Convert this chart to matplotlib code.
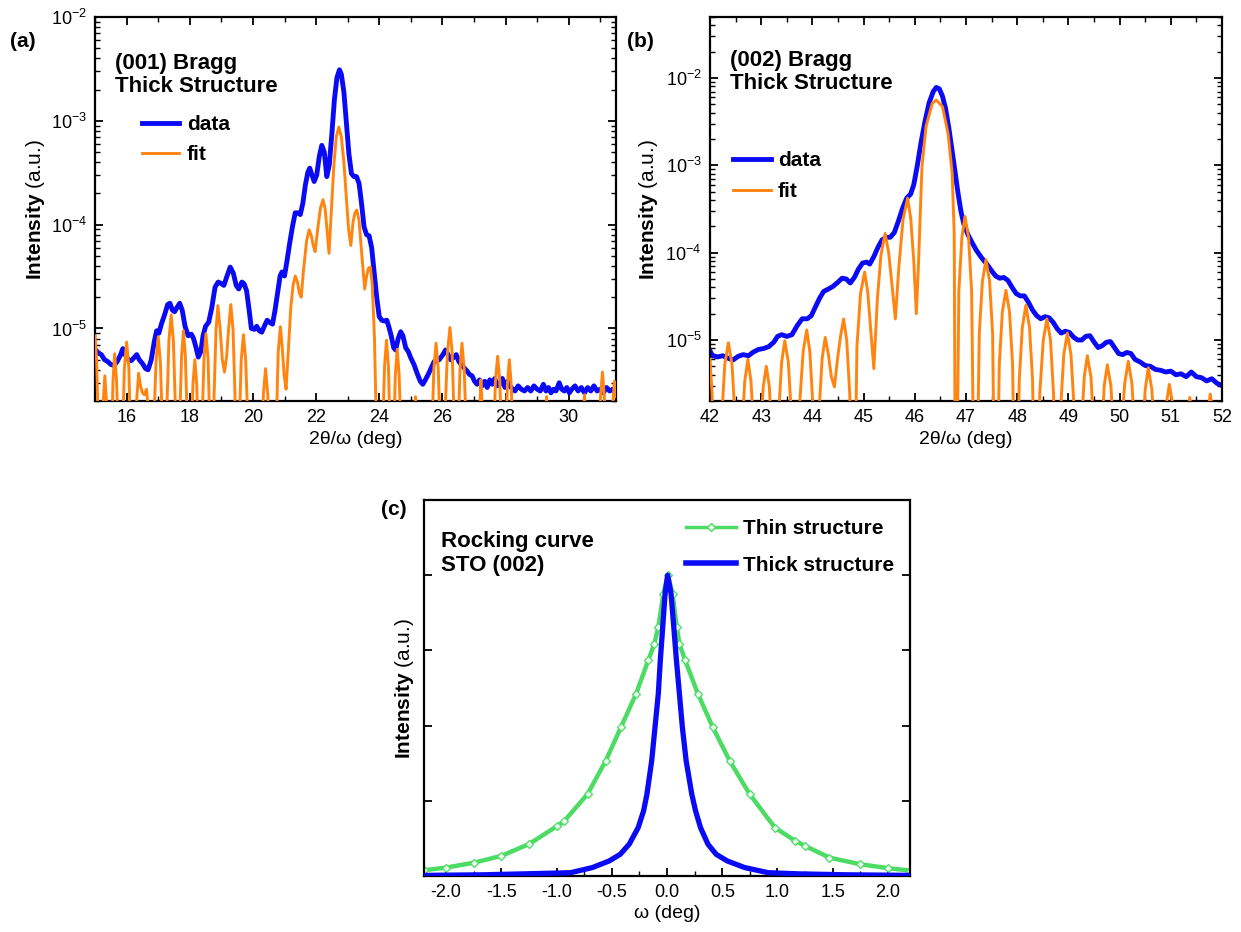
import numpy as np
import matplotlib
matplotlib.use("Agg")
import matplotlib.pyplot as plt
from matplotlib.lines import Line2D
from matplotlib.ticker import MultipleLocator, LogLocator, NullFormatter, FormatStrFormatter

plt.rcParams['font.family'] = 'Liberation Sans'
plt.rcParams['mathtext.fontset'] = 'custom'
plt.rcParams['mathtext.rm'] = 'Liberation Sans'
plt.rcParams['mathtext.bf'] = 'Liberation Sans:bold'
plt.rcParams['mathtext.it'] = 'Liberation Sans:italic'
plt.rcParams['axes.unicode_minus'] = False

BLUE = '#0a0af5'
ORANGE = '#ff8410'
GREEN = '#4cdc64'

# ---- (a) (001) Bragg (2theta, intensity)
a_data = [
    (15.0, 6.3e-6), (15.1, 5.8e-6), (15.2, 5.6e-6), (15.3, 5.0e-6), (15.4, 4.8e-6), (15.5, 4.5e-6),
    (15.6, 4.4e-6), (15.7, 4.8e-6), (15.8, 5.5e-6), (15.88, 6.4e-6), (15.95, 5.6e-6), (16.05, 5.0e-6),
    (16.15, 4.9e-6), (16.25, 5.3e-6), (16.32, 5.6e-6), (16.4, 5.0e-6), (16.5, 4.6e-6), (16.6, 4.1e-6),
    (16.68, 4.0e-6), (16.78, 5.0e-6), (16.88, 7.6e-6), (16.95, 9.5e-6), (17.02, 9.0e-6), (17.1, 1.1e-5),
    (17.2, 1.35e-5), (17.3, 1.7e-5), (17.37, 1.75e-5), (17.45, 1.5e-5), (17.52, 1.45e-5), (17.6, 1.6e-5),
    (17.68, 1.75e-5), (17.76, 1.5e-5), (17.85, 1.05e-5), (17.95, 8.5e-6), (18.05, 8.8e-6), (18.12, 8.0e-6),
    (18.2, 6.5e-6), (18.27, 5.3e-6), (18.35, 6.0e-6), (18.42, 8.5e-6), (18.5, 1.05e-5), (18.6, 1.15e-5),
    (18.7, 1.6e-5), (18.8, 2.5e-5), (18.9, 2.8e-5), (19.0, 2.7e-5), (19.08, 2.6e-5), (19.18, 3.2e-5),
    (19.28, 3.9e-5), (19.38, 3.4e-5), (19.47, 2.6e-5), (19.55, 2.4e-5), (19.65, 2.8e-5), (19.72, 2.7e-5),
    (19.8, 2.3e-5), (19.88, 1.5e-5), (19.95, 1.0e-5), (20.05, 9.8e-6), (20.12, 1.05e-5), (20.2, 9.5e-6),
    (20.28, 9.2e-6), (20.36, 1.05e-5), (20.45, 1.2e-5), (20.52, 1.15e-5), (20.62, 1.1e-5), (20.7, 1.5e-5),
    (20.78, 2.2e-5), (20.86, 3.2e-5), (20.92, 3.5e-5), (21.0, 3.2e-5), (21.08, 4.5e-5), (21.16, 6.5e-5),
    (21.25, 9.5e-5), (21.34, 1.3e-4), (21.42, 1.3e-4), (21.5, 1.25e-4), (21.58, 1.6e-4), (21.66, 2.4e-4),
    (21.74, 3.2e-4), (21.8, 3.5e-4), (21.87, 3.0e-4), (21.94, 2.6e-4), (22.02, 3.0e-4), (22.1, 4.5e-4),
    (22.18, 5.8e-4), (22.26, 5.0e-4), (22.34, 2.9e-4), (22.42, 3.8e-4), (22.5, 7.5e-4), (22.58, 1.6e-3),
    (22.66, 2.6e-3), (22.74, 3.1e-3), (22.8, 2.8e-3), (22.88, 1.9e-3), (22.96, 9.5e-4), (23.04, 4.8e-4),
    (23.12, 3.1e-4), (23.2, 2.9e-4), (23.28, 2.9e-4), (23.36, 2.5e-4), (23.44, 1.6e-4), (23.52, 9.5e-5),
    (23.6, 8.0e-5), (23.68, 7.8e-5), (23.76, 6.0e-5), (23.84, 3.5e-5), (23.92, 2.0e-5), (24.0, 1.3e-5),
    (24.08, 1.2e-5), (24.16, 1.18e-5), (24.24, 1.2e-5), (24.3, 1.05e-5), (24.38, 8.5e-6), (24.46, 6.5e-6),
    (24.52, 6.2e-6), (24.6, 8.0e-6), (24.68, 9.3e-6), (24.75, 8.5e-6), (24.84, 6.5e-6), (24.92, 6.0e-6),
    (25.0, 5.2e-6), (25.1, 4.5e-6), (25.2, 3.7e-6), (25.3, 3.1e-6), (25.38, 2.9e-6), (25.46, 3.2e-6),
    (25.55, 3.6e-6), (25.65, 4.2e-6), (25.74, 4.8e-6), (25.82, 4.9e-6), (25.9, 5.0e-6), (26.0, 5.5e-6),
    (26.1, 6.2e-6), (26.18, 5.6e-6), (26.26, 5.0e-6), (26.34, 5.2e-6), (26.44, 5.6e-6), (26.52, 4.8e-6),
    (26.6, 4.5e-6), (26.68, 4.2e-6), (26.78, 3.9e-6), (26.86, 3.6e-6), (26.94, 3.5e-6), (27.02, 3.1e-6),
    (27.1, 2.9e-6), (27.18, 3.2e-6), (27.26, 2.8e-6), (27.34, 3.1e-6), (27.42, 2.7e-6), (27.5, 3.2e-6),
    (27.58, 2.9e-6), (27.66, 3.3e-6), (27.74, 2.8e-6), (27.82, 2.9e-6), (27.9, 3.3e-6), (27.98, 2.7e-6),
    (28.06, 3.1e-6), (28.14, 2.8e-6), (28.22, 2.6e-6), (28.3, 2.5e-6), (28.4, 2.8e-6), (28.5, 2.6e-6),
    (28.6, 2.5e-6), (28.7, 2.7e-6), (28.8, 2.5e-6), (28.9, 2.8e-6), (29.0, 2.6e-6), (29.1, 2.5e-6),
    (29.2, 2.9e-6), (29.28, 2.5e-6), (29.36, 2.7e-6), (29.44, 2.4e-6), (29.52, 2.6e-6), (29.6, 2.5e-6),
    (29.7, 3.0e-6), (29.78, 2.6e-6), (29.86, 2.5e-6), (29.94, 2.7e-6), (30.02, 2.4e-6), (30.1, 2.6e-6),
    (30.2, 2.8e-6), (30.3, 2.5e-6), (30.4, 2.7e-6), (30.5, 2.4e-6), (30.6, 2.7e-6), (30.7, 2.5e-6),
    (30.8, 2.8e-6), (30.9, 2.5e-6), (31.0, 2.6e-6), (31.1, 2.4e-6), (31.2, 2.7e-6), (31.3, 2.5e-6),
    (31.4, 2.6e-6), (31.5, 2.3e-6),
]

a_fit = [
    (15.0, 8.5e-6), (15.05, 4.8e-6), (15.1, 1.2e-6), (15.16, 1e-8),
    (15.21, 5e-7), (15.26, 2.0e-6), (15.31, 3.5e-6), (15.36, 2.0e-6), (15.41, 5e-7), (15.46, 1e-8),
    (15.52, 8e-7), (15.57, 3.2e-6), (15.62, 5.7e-6), (15.68, 3.2e-6), (15.74, 8e-7), (15.80, 1e-8),
    (15.87, 1.0e-6), (15.93, 4.2e-6), (16.0, 7.4e-6), (16.07, 4.2e-6), (16.12, 1.0e-6), (16.19, 1e-8),
    (16.26, 5e-7), (16.32, 2.1e-6), (16.38, 3.7e-6), (16.44, 2.8e-6), (16.5, 2.4e-6), (16.56, 2.3e-6),
    (16.63, 2.6e-6), (16.7, 1.5e-6), (16.74, 4e-7), (16.78, 1e-8),
    (16.86, 1.2e-6), (16.93, 4.7e-6), (17.0, 8.3e-6), (17.07, 4.7e-6), (17.13, 1.2e-6), (17.2, 1e-8),
    (17.28, 1.9e-6), (17.34, 7.7e-6), (17.41, 1.35e-5), (17.48, 7.7e-6), (17.54, 1.9e-6), (17.61, 1e-8),
    (17.68, 1.3e-6), (17.74, 5.4e-6), (17.8, 9.5e-6), (17.86, 5.4e-6), (17.92, 1.3e-6), (17.98, 1e-8),
    (18.04, 7e-7), (18.1, 2.9e-6), (18.16, 5e-6), (18.22, 2.9e-6), (18.27, 7e-7), (18.33, 1e-8),
    (18.39, 1.25e-6), (18.45, 5.1e-6), (18.51, 8.9e-6), (18.58, 5.1e-6), (18.63, 1.25e-6), (18.7, 1e-8),
    (18.77, 2.3e-6), (18.83, 9.5e-6), (18.89, 1.66e-5), (18.96, 1.0e-5), (19.03, 5.0e-6), (19.1, 3.8e-6),
    (19.17, 5.5e-6), (19.23, 1.0e-5), (19.3, 1.7e-5), (19.37, 9.7e-6), (19.43, 2.4e-6), (19.5, 1e-8),
    (19.57, 1.2e-6), (19.63, 5e-6), (19.7, 8.7e-6), (19.77, 5e-6), (19.84, 1.2e-6), (19.92, 1e-8),
    (20.2, 1e-8), (20.27, 6e-7), (20.33, 2.3e-6), (20.4, 4.1e-6), (20.47, 2.3e-6), (20.53, 6e-7), (20.6, 1e-8),
    (20.68, 1e-8), (20.75, 1.5e-6), (20.8, 5.9e-6), (20.87, 1.04e-5), (20.93, 6.5e-6), (20.99, 3.5e-6), (21.05, 2.6e-6),
    (21.12, 6e-6), (21.2, 1.6e-5), (21.27, 2.6e-5), (21.34, 3.2e-5), (21.41, 2.8e-5), (21.47, 2.2e-5), (21.53, 2.0e-5),
    (21.6, 3.6e-5), (21.7, 7e-5), (21.78, 8.9e-5), (21.85, 7.8e-5), (21.91, 6.3e-5), (21.97, 5.5e-5),
    (22.05, 9e-5), (22.14, 1.45e-4), (22.22, 1.74e-4), (22.29, 1.4e-4), (22.35, 8.5e-5), (22.41, 5.3e-5),
    (22.48, 1.3e-4), (22.56, 3.6e-4), (22.64, 7e-4), (22.72, 8.7e-4), (22.8, 7e-4), (22.88, 4e-4),
    (22.96, 1.8e-4), (23.03, 9e-5), (23.1, 6.3e-5),
    (23.17, 1.05e-4), (23.23, 1.3e-4), (23.29, 1.38e-4), (23.36, 1.1e-4), (23.44, 5.5e-5), (23.54, 2.4e-5),
    (23.6, 3.2e-5), (23.66, 3.8e-5), (23.72, 3.9e-5), (23.78, 2.6e-5), (23.85, 8e-6), (23.9, 1.5e-6), (23.95, 1e-8),
    (24.05, 1e-8), (24.11, 1.1e-6), (24.17, 4.4e-6), (24.23, 7.7e-6), (24.29, 4.4e-6), (24.34, 1.1e-6), (24.4, 1e-8),
    (24.46, 9e-7), (24.51, 3.6e-6), (24.57, 6.3e-6), (24.63, 3.6e-6), (24.69, 9e-7), (24.76, 1e-8),
    (25.0, 1e-8), (25.08, 3e-7), (25.12, 1.3e-6), (25.15, 2.2e-6), (25.19, 1.3e-6), (25.23, 3e-7), (25.3, 1e-8),
    (25.6, 1e-8), (25.67, 1.0e-6), (25.73, 4.1e-6), (25.8, 7.2e-6), (25.87, 4.1e-6), (25.93, 1.0e-6), (26.0, 1e-8),
    (26.08, 1.4e-6), (26.16, 5.8e-6), (26.24, 1.02e-5), (26.31, 5.8e-6), (26.37, 1.4e-6), (26.44, 1e-8),
    (26.5, 1.0e-6), (26.56, 4.1e-6), (26.62, 7.2e-6), (26.69, 4.1e-6), (26.76, 1.0e-6), (26.83, 1e-8),
    (27.1, 1e-8), (27.15, 4.5e-7), (27.19, 1.8e-6), (27.22, 3.2e-6), (27.26, 1.8e-6), (27.3, 4.5e-7), (27.36, 1e-8),
    (27.55, 1e-8), (27.62, 7.5e-7), (27.68, 3.1e-6), (27.75, 5.4e-6), (27.82, 3.1e-6), (27.88, 7.5e-7), (27.94, 1e-8),
    (28.0, 7e-7), (28.06, 2.9e-6), (28.12, 5e-6), (28.18, 2.9e-6), (28.24, 7e-7), (28.3, 1e-8),
    (29.2, 1e-8), (29.26, 1.2e-6), (29.3, 2.2e-6), (29.34, 1.2e-6), (29.4, 1e-8),
    (30.4, 1e-8), (30.46, 1.3e-6), (30.5, 2.3e-6), (30.54, 1.3e-6), (30.6, 1e-8),
    (30.9, 1e-8), (30.96, 5e-7), (31.01, 2.2e-6), (31.07, 3.8e-6), (31.13, 2.2e-6), (31.18, 5e-7), (31.25, 1e-8),
    (31.32, 4.5e-7), (31.39, 1.8e-6), (31.45, 3.1e-6), (31.5, 2.2e-6),
]

# ---- (b) (002) Bragg
b_data = [
    (42.0, 7.5e-6), (42.05, 6.6e-6), (42.15, 6.4e-6), (42.25, 6.6e-6), (42.35, 6.2e-6), (42.45, 5.9e-6),
    (42.55, 6.5e-6), (42.65, 6.8e-6), (42.75, 6.6e-6), (42.85, 7.3e-6), (42.95, 7.8e-6), (43.05, 8.0e-6),
    (43.15, 8.4e-6), (43.25, 9.5e-6), (43.32, 1.1e-5), (43.4, 1.15e-5), (43.5, 1.1e-5), (43.6, 1.15e-5),
    (43.7, 1.45e-5), (43.8, 1.75e-5), (43.9, 1.75e-5), (43.98, 1.9e-5), (44.06, 2.4e-5), (44.14, 3.0e-5),
    (44.22, 3.6e-5), (44.3, 3.8e-5), (44.4, 4.1e-5), (44.5, 4.6e-5), (44.58, 5.1e-5), (44.66, 5.0e-5),
    (44.74, 4.5e-5), (44.82, 5.2e-5), (44.9, 6.5e-5), (44.98, 7.6e-5), (45.06, 7.8e-5), (45.12, 7.4e-5),
    (45.2, 9.0e-5), (45.28, 1.15e-4), (45.36, 1.4e-4), (45.44, 1.5e-4), (45.52, 1.5e-4), (45.6, 1.7e-4),
    (45.68, 2.3e-4), (45.76, 3.2e-4), (45.84, 4.2e-4), (45.92, 4.7e-4), (45.98, 6.0e-4), (46.05, 1.0e-3),
    (46.12, 1.8e-3), (46.2, 3.2e-3), (46.28, 5.2e-3), (46.36, 7.0e-3), (46.42, 7.8e-3), (46.48, 7.5e-3),
    (46.54, 6.2e-3), (46.6, 4.5e-3), (46.66, 2.8e-3), (46.72, 1.6e-3), (46.78, 9.0e-4), (46.84, 5.0e-4),
    (46.9, 3.0e-4), (46.96, 2.1e-4), (47.04, 1.6e-4), (47.12, 1.3e-4), (47.2, 1.07e-4), (47.3, 8.8e-5),
    (47.4, 7.5e-5), (47.5, 6.2e-5), (47.58, 5.4e-5), (47.66, 5.1e-5), (47.74, 5.2e-5), (47.82, 4.8e-5),
    (47.9, 4.0e-5), (47.98, 3.4e-5), (48.06, 3.2e-5), (48.14, 3.2e-5), (48.22, 2.7e-5), (48.3, 2.2e-5),
    (48.38, 1.9e-5), (48.46, 1.75e-5), (48.54, 1.85e-5), (48.62, 1.8e-5), (48.7, 1.6e-5), (48.78, 1.35e-5),
    (48.86, 1.2e-5), (48.94, 1.26e-5), (49.02, 1.22e-5), (49.1, 1.08e-5), (49.18, 1.0e-5), (49.26, 1.0e-5),
    (49.34, 1.1e-5), (49.42, 1.12e-5), (49.5, 9.5e-6), (49.58, 8.2e-6), (49.66, 8.6e-6), (49.74, 9.4e-6),
    (49.82, 9.6e-6), (49.9, 8.2e-6), (49.98, 7.0e-6), (50.06, 6.8e-6), (50.14, 7.2e-6), (50.22, 7.0e-6),
    (50.3, 6.0e-6), (50.4, 5.6e-6), (50.5, 5.1e-6), (50.6, 5.0e-6), (50.7, 4.6e-6), (50.8, 4.5e-6),
    (50.9, 4.3e-6), (51.0, 4.4e-6), (51.1, 4.0e-6), (51.2, 4.1e-6), (51.3, 3.8e-6), (51.4, 4.3e-6),
    (51.5, 3.8e-6), (51.6, 3.7e-6), (51.7, 3.4e-6), (51.8, 3.6e-6), (51.9, 3.2e-6), (52.0, 3.0e-6),
]

b_fit = [
    (42.0, 6e-6), (42.04, 2.5e-6), (42.08, 6e-7), (42.13, 1e-8),
    (42.23, 1.3e-6), (42.29, 5.3e-6), (42.36, 9.3e-6), (42.43, 5.3e-6), (42.49, 1.3e-6), (42.55, 1e-8),
    (42.62, 8.4e-7), (42.68, 3.4e-6), (42.74, 6e-6), (42.8, 3.4e-6), (42.86, 8.4e-7), (42.92, 1e-8),
    (42.98, 7e-7), (43.04, 2.9e-6), (43.1, 5e-6), (43.16, 2.9e-6), (43.21, 7e-7), (43.27, 1e-8),
    (43.34, 1.4e-6), (43.4, 5.6e-6), (43.46, 9.8e-6), (43.53, 5.6e-6), (43.59, 1.4e-6), (43.66, 1e-8),
    (43.75, 1.8e-6), (43.82, 7.4e-6), (43.89, 1.3e-5), (43.95, 7.4e-6), (44.01, 1.8e-6), (44.07, 1e-8),
    (44.13, 1.5e-6), (44.19, 6.1e-6), (44.25, 1.07e-5), (44.31, 7e-6), (44.37, 3.8e-6), (44.43, 2.9e-6),
    (44.49, 6e-6), (44.55, 1.1e-5), (44.61, 1.74e-5), (44.67, 1e-5), (44.73, 2.4e-6), (44.8, 1e-8),
    (44.87, 8.4e-6), (44.94, 3.4e-5), (45.02, 6e-5), (45.08, 3.6e-5), (45.14, 1.3e-5), (45.2, 4.7e-6),
    (45.27, 3e-5), (45.34, 9.5e-5), (45.42, 1.66e-4), (45.49, 1.0e-4), (45.56, 4e-5), (45.62, 1.74e-5),
    (45.69, 7e-5), (45.77, 2.4e-4), (45.86, 4.2e-4), (45.92, 2.5e-4), (45.98, 8e-5), (46.03, 2e-5),
    (46.07, 6.9e-5), (46.14, 9.6e-4), (46.22, 2.8e-3), (46.34, 5.1e-3), (46.42, 5.6e-3), (46.54, 4.7e-3),
    (46.65, 2.3e-3), (46.73, 8.1e-4), (46.77, 1.66e-4), (46.8, 1e-8),
    (46.86, 3.6e-5), (46.92, 1.5e-4), (46.98, 2.6e-4), (47.05, 1.5e-4), (47.11, 3.6e-5), (47.18, 1e-8),
    (47.26, 1.2e-5), (47.32, 4.7e-5), (47.39, 8.3e-5), (47.46, 4.7e-5), (47.52, 1.2e-5), (47.58, 1e-8),
    (47.65, 5.2e-6), (47.71, 2.1e-5), (47.78, 3.7e-5), (47.85, 2.1e-5), (47.91, 5.2e-6), (47.98, 1e-8),
    (48.04, 3.5e-6), (48.1, 1.4e-5), (48.17, 2.5e-5), (48.24, 1.4e-5), (48.3, 3.5e-6), (48.37, 1e-8),
    (48.44, 2.4e-6), (48.51, 1.0e-5), (48.58, 1.74e-5), (48.65, 1.0e-5), (48.71, 2.4e-6), (48.78, 1e-8),
    (48.85, 1.7e-6), (48.91, 6.8e-6), (48.98, 1.2e-5), (49.05, 6.8e-6), (49.11, 1.7e-6), (49.18, 1e-8),
    (49.25, 9e-7), (49.31, 3.8e-6), (49.37, 6.6e-6), (49.44, 3.8e-6), (49.5, 9e-7), (49.57, 1e-8),
    (49.64, 7e-7), (49.7, 3e-6), (49.76, 5.2e-6), (49.83, 3e-6), (49.89, 7e-7), (49.96, 1e-8),
    (50.03, 8e-7), (50.1, 3.2e-6), (50.17, 5.7e-6), (50.24, 3.2e-6), (50.3, 8e-7), (50.37, 1e-8),
    (50.44, 7e-7), (50.5, 2.7e-6), (50.56, 4.8e-6), (50.63, 2.7e-6), (50.69, 7e-7), (50.76, 1e-8),
    (50.84, 4e-7), (50.91, 1.8e-6), (50.97, 3.1e-6), (51.04, 1.8e-6), (51.1, 4e-7), (51.16, 1e-8),
    (51.26, 3e-7), (51.32, 1.3e-6), (51.37, 2.2e-6), (51.42, 1.3e-6), (51.48, 3e-7), (51.55, 1e-8),
    (51.66, 3.4e-7), (51.72, 1.4e-6), (51.77, 2.4e-6), (51.83, 1.4e-6), (51.89, 3.4e-7), (51.95, 1e-8), (52.0, 1e-8),
]

# ---- (c) rocking curves, normalised intensity (peak = 1)
c_thin = [
    (-2.2, 0.019), (-2.0, 0.028), (-1.75, 0.044), (-1.5, 0.067), (-1.25, 0.106), (-1.0, 0.165),
    (-0.93, 0.183), (-0.72, 0.272), (-0.555, 0.383), (-0.418, 0.494), (-0.28, 0.606), (-0.17, 0.717),
    (-0.115, 0.772), (-0.079, 0.828), (-0.033, 0.939), (0.006, 1.0), (0.05, 0.939), (0.088, 0.828),
    (0.112, 0.772), (0.164, 0.717), (0.279, 0.606), (0.415, 0.494), (0.567, 0.383), (0.748, 0.272),
    (0.976, 0.161), (1.16, 0.117), (1.25, 0.1), (1.47, 0.061), (1.75, 0.039), (2.0, 0.026), (2.2, 0.018),
]
c_thick = [
    (-2.2, 0.002), (-1.66, 0.004), (-1.19, 0.008), (-0.873, 0.011), (-0.676, 0.028), (-0.524, 0.05),
    (-0.424, 0.072), (-0.342, 0.106), (-0.261, 0.161), (-0.212, 0.217), (-0.182, 0.272), (-0.139, 0.383),
    (-0.109, 0.494), (-0.079, 0.606), (-0.061, 0.717), (-0.039, 0.828), (-0.018, 0.939), (0.006, 1.0),
    (0.036, 0.939), (0.061, 0.828), (0.085, 0.717), (0.112, 0.606), (0.139, 0.494), (0.173, 0.383),
    (0.224, 0.272), (0.258, 0.217), (0.303, 0.161), (0.37, 0.106), (0.445, 0.072), (0.545, 0.05),
    (0.703, 0.028), (0.915, 0.011), (1.2, 0.007), (1.62, 0.004), (2.2, 0.002),
]
c_yticks = [0.25, 0.5, 0.75, 1.0]


def xy(pairs):
    arr = np.array(pairs)
    return arr[:, 0], arr[:, 1]


def style(ax, top=True):
    ax.tick_params(which='both', direction='in', top=top, right=True, labelsize=13, pad=6)
    ax.tick_params(which='major', length=6, width=1.3)
    ax.tick_params(which='minor', length=3.5, width=1.0)
    for s in ax.spines.values():
        s.set_linewidth(1.6)


def log_axis(ax, ylim):
    ax.set_yscale('log')
    ax.set_ylim(*ylim)
    ax.yaxis.set_major_locator(LogLocator(base=10, numticks=12))
    ax.yaxis.set_minor_locator(LogLocator(base=10, subs=np.arange(2, 10), numticks=12))
    ax.yaxis.set_minor_formatter(NullFormatter())


ylab = r'$\mathbf{Intensity}$ (a.u.)'
fig = plt.figure(figsize=(12.41, 9.32), dpi=100)

# (a)
ax1 = fig.add_axes([0.0766, 0.5697, 0.4198, 0.4121])
x, y = xy(a_data)
ax1.plot(x, y, color=BLUE, lw=3.5, label='data', zorder=2)
x, y = xy(a_fit)
ax1.plot(x, y, color=ORANGE, lw=2.1, label='fit', zorder=3)
ax1.set_xlim(15, 31.5)
log_axis(ax1, (2e-6, 1e-2))
ax1.xaxis.set_major_locator(MultipleLocator(2))
ax1.xaxis.set_minor_locator(MultipleLocator(1))
style(ax1)
ax1.set_xlabel('2θ/ω (deg)', fontsize=14, labelpad=3)
ax1.set_ylabel(ylab, fontsize=15, labelpad=2.5)
ax1.text(0.038, 0.905, '(001) Bragg\nThick Structure', transform=ax1.transAxes,
         fontsize=16, fontweight='bold', va='top', linespacing=1.1)
ax1.legend(loc='upper left', bbox_to_anchor=(0.09, 0.745), frameon=False,
           prop={'weight': 'bold', 'size': 15}, handlelength=1.8, handletextpad=0.35,
           labelspacing=0.55, borderpad=0, borderaxespad=0)

# (b)
ax2 = fig.add_axes([0.5721, 0.5697, 0.4126, 0.4121])
x, y = xy(b_data)
ax2.plot(x, y, color=BLUE, lw=3.5, label='data', zorder=2)
x, y = xy(b_fit)
ax2.plot(x, y, color=ORANGE, lw=2.1, label='fit', zorder=3)
ax2.set_xlim(42, 52)
log_axis(ax2, (2e-6, 5e-2))
ax2.xaxis.set_major_locator(MultipleLocator(1))
ax2.xaxis.set_minor_locator(MultipleLocator(0.5))
style(ax2)
ax2.set_xlabel('2θ/ω (deg)', fontsize=14, labelpad=3)
ax2.set_ylabel(ylab, fontsize=15, labelpad=4)
ax2.text(0.039, 0.913, '(002) Bragg\nThick Structure', transform=ax2.transAxes,
         fontsize=16, fontweight='bold', va='top', linespacing=1.1)
ax2.legend(loc='upper left', bbox_to_anchor=(0.045, 0.65), frameon=False,
           prop={'weight': 'bold', 'size': 15}, handlelength=1.8, handletextpad=0.35,
           labelspacing=0.55, borderpad=0, borderaxespad=0)

# (c)
ax3 = fig.add_axes([0.3417, 0.0601, 0.3916, 0.4034])
x, y = xy(c_thin)
ax3.plot(x, y, color=GREEN, lw=3.2, marker='D', ms=4, mfc='#e9fbec', mec=GREEN, mew=0.9, zorder=2)
x, y = xy(c_thick)
ax3.plot(x, y, color=BLUE, lw=3.8, zorder=3)
ax3.set_xlim(-2.2, 2.2)
ax3.set_ylim(0, 1.25)
ax3.set_yticks(c_yticks)
ax3.set_yticklabels([])
ax3.xaxis.set_major_locator(MultipleLocator(0.5))
ax3.xaxis.set_minor_locator(MultipleLocator(0.25))
ax3.xaxis.set_major_formatter(FormatStrFormatter('%.1f'))
style(ax3, top=False)
ax3.set_xlabel('ω (deg)', fontsize=14, labelpad=3)
ax3.set_ylabel(ylab, fontsize=15, labelpad=0)
ax3.text(0.035, 0.918, 'Rocking curve\nSTO (002)', transform=ax3.transAxes,
         fontsize=16, fontweight='bold', va='top', linespacing=1.2)
handles = [Line2D([], [], color=GREEN, lw=2.5, marker='D', ms=4, mfc='#e9fbec', mec=GREEN),
           Line2D([], [], color=BLUE, lw=4)]
ax3.legend(handles, ['Thin structure', 'Thick structure'], loc='upper left',
           bbox_to_anchor=(0.539, 0.95), frameon=False, numpoints=1,
           prop={'weight': 'bold', 'size': 15}, handlelength=2.4, handletextpad=0.35,
           labelspacing=0.85, borderpad=0, borderaxespad=0)

# panel letters
fig.text(0.008, 0.955, '(a)', fontsize=15, fontweight='bold', va='center')
fig.text(0.505, 0.955, '(b)', fontsize=15, fontweight='bold', va='center')
fig.text(0.307, 0.453, '(c)', fontsize=15, fontweight='bold', va='center')

fig.savefig('out.png', dpi=100)
